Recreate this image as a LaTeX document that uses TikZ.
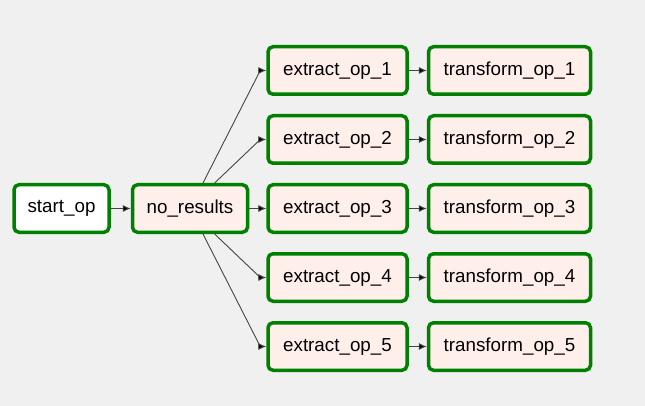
\documentclass[tikz,border=0pt]{standalone}
\usepackage{fontspec}
\setmainfont{Liberation Sans}
\usepackage{xcolor}
\usetikzlibrary{
  positioning,
  arrows.meta
}
\definecolor{bggray}{HTML}{F0F0F0}
\definecolor{taskgreen}{HTML}{008000}
\definecolor{taskfill}{HTML}{FFEFEB}
\definecolor{edgegray}{HTML}{444444}

\tikzset{
  task/.style={draw=taskgreen, line width=3.5pt, rounded corners=5pt,
    fill=taskfill, minimum height=47.5pt, inner sep=0pt,
    font=\fontsize{18.8}{20}\selectfont},
  dummytask/.style={task, fill=white},
  edge/.style={->, draw=edgegray, line width=0.9pt}
}

\begin{document}
\begin{tikzpicture}[x=1pt,y=-1pt,node distance=18pt,>={Latex[length=8pt,width=7pt,fill=black]}]
        \fill[bggray] (0,0) rectangle (645,406);
        \useasboundingbox (0,0) rectangle (645,406);

        % first two tasks
        \node[dummytask, minimum width=95pt] (start) at (61.5,208.5) {start\_op};
        \node[task, minimum width=115pt, right=20pt of start] (nores) {no\_results};

        % extract column
        \node[task, minimum width=139pt, right=17pt of nores] (ext3) {extract\_op\_3};
        \node[task, minimum width=139pt, above=18pt of ext3] (ext2) {extract\_op\_2};
        \node[task, minimum width=139pt, above=18pt of ext2] (ext1) {extract\_op\_1};
        \node[task, minimum width=139pt, below=18pt of ext3] (ext4) {extract\_op\_4};
        \node[task, minimum width=139pt, below=18pt of ext4] (ext5) {extract\_op\_5};

        % transform column
        \node[task, minimum width=162pt, right=of ext1] (trf1) {transform\_op\_1};
        \node[task, minimum width=162pt, right=of ext2] (trf2) {transform\_op\_2};
        \node[task, minimum width=162pt, right=of ext3] (trf3) {transform\_op\_3};
        \node[task, minimum width=162pt, right=of ext4] (trf4) {transform\_op\_4};
        \node[task, minimum width=162pt, right=of ext5] (trf5) {transform\_op\_5};

        % edges
        \draw[edge] (start) -- (nores);
        \draw[edge] (nores.63) -- ([xshift=-6pt]ext1.west) -- (ext1.west);
        \draw[edge] (nores.46) -- ([xshift=-6pt]ext2.west) -- (ext2.west);
        \draw[edge] (nores) -- (ext3);
        \draw[edge] (nores.-46) -- ([xshift=-6pt]ext4.west) -- (ext4.west);
        \draw[edge] (nores.-63) -- ([xshift=-6pt]ext5.west) -- (ext5.west);
        \draw[edge] (ext1) -- (trf1);
        \draw[edge] (ext2) -- (trf2);
        \draw[edge] (ext3) -- (trf3);
        \draw[edge] (ext4) -- (trf4);
        \draw[edge] (ext5) -- (trf5);
    \end{tikzpicture}
\end{document}
